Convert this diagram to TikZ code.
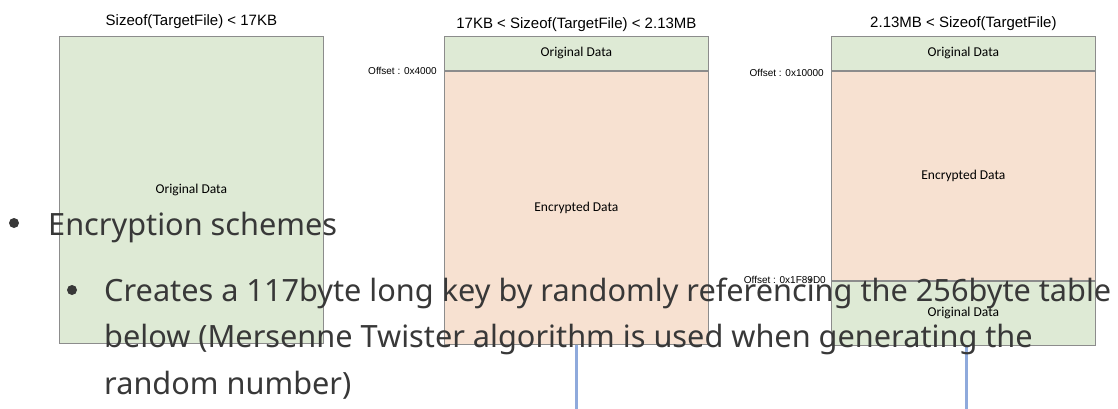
\documentclass[tikz,border=0pt]{standalone}
\usepackage{fontspec}
\setmainfont{Liberation Sans}
\newfontfamily\labelfont{Carlito}
\newfontfamily\notefont{Noto Sans}
\usetikzlibrary{
    arrows.meta,
    positioning,
    calc,
}
\definecolor{origgreen}{HTML}{DEEAD5}
\definecolor{encorange}{HTML}{F7E1D1}
\definecolor{framegray}{HTML}{8C8C8C}
\definecolor{notegray}{HTML}{383838}
\definecolor{linkblue}{HTML}{8FAADC}

\begin{document}
\begin{tikzpicture}[x=1pt, y=-1pt,
        part/.style={draw=framegray, line width=0.8pt, minimum width=264pt, inner sep=0pt,
            font=\labelfont\fontsize{13.5}{15}\selectfont},
        orig/.style={part, fill=origgreen},
        enc/.style={part, fill=encorange},
        title/.style={inner sep=0pt, font=\fontsize{15}{17}\selectfont},
        offs/.style={inner sep=0pt, anchor=east, font=\fontsize{10}{12}\selectfont},
        note/.style={inner sep=0pt, anchor=base west, text=notegray, font=\notefont\fontsize{30.7}{36}\selectfont},
        dot/.style={circle, fill=notegray, inner sep=0pt, minimum size=10pt},
        link/.style={draw=linkblue, line width=3pt}]
        \useasboundingbox (0,0) rectangle (1118,409);

        \node[orig, minimum height=307pt, anchor=north west] (whole) at (59,36) {Original Data};
        \node[title, above=7pt of whole] (wholetitle) {Sizeof(TargetFile) < 17KB};

        \node[orig, minimum height=34pt, anchor=north west] (midhead) at (444,36) {Original Data};
        \node[enc, minimum height=273pt, below=0pt of midhead] (midbody) {Encrypted Data};
        \node[title, above=4pt of midhead] (midtitle) {17KB < Sizeof(TargetFile) < 2.13MB};
        \node[offs, left=7pt of midbody.north west] (midoff) {Offset : 0x4000};

        \node[orig, minimum height=34pt, anchor=north west] (bighead) at (831,36) {Original Data};
        \node[enc, minimum height=209pt, below=0pt of bighead] (bigbody) {Encrypted Data};
        \node[orig, minimum height=64pt, below=0pt of bigbody] (bigtail) {Original Data};
        \node[title, above=5pt of bighead] (bigtitle) {2.13MB < Sizeof(TargetFile)};
        \node[offs, left=7pt of bigbody.north west, yshift=-2pt] (bigoffA) {Offset : 0x10000};
        \node[offs, left=5pt of bigtail.north west, yshift=1pt] (bigoffB) {Offset : 0x1F89D0};

        \coordinate (midend) at (midbody.south |- 0,409);
        \coordinate (bigend) at ([xshift=3pt]bigtail.south |- 0,409);
        \draw[link] (midbody.south) -- (midend);
        \draw[link] ([xshift=3pt]bigtail.south) -- (bigend);

        \node[dot] (dotA) at (14,223) {};
        \node[note] (head) at (48,235) {Encryption schemes};
        \node[dot] (dotB) at (72,290) {};
        \node[note] (keyA) at (104,301) {Creates a 117byte long key by randomly referencing the 256byte table};
        \node[note] (keyB) at (104,347) {below (Mersenne Twister algorithm is used when generating the};
        \node[note] (keyC) at (104,394) {random number)};
    \end{tikzpicture}
\end{document}
